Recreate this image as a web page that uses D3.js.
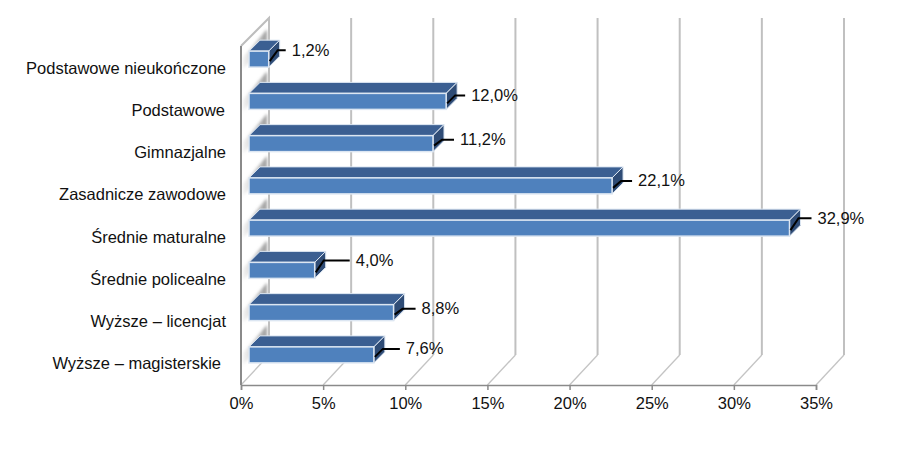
<!DOCTYPE html>
<html><head><meta charset="utf-8">
<script src="https://cdnjs.cloudflare.com/ajax/libs/d3/7.8.5/d3.min.js"></script>
<style>html,body{margin:0;padding:0;background:#fff}svg{display:block}text{font-family:"Liberation Sans",Arial,sans-serif;font-size:16.5px;fill:#111}</style>
</head><body><svg id="c" width="897" height="450"></svg>
<script>
const categories = ["Podstawowe nieukończone","Podstawowe","Gimnazjalne","Zasadnicze zawodowe","Średnie maturalne","Średnie policealne","Wyższe – licencjat","Wyższe – magisterskie"];
const values = [1.2,12.0,11.2,22.1,32.9,4.0,8.8,7.6];
const valueLabels = ["1,2%","12,0%","11,2%","22,1%","32,9%","4,0%","8,8%","7,6%"];
const ticks = [0,5,10,15,20,25,30,35];

const svg = d3.select("#c");
const x = d3.scaleLinear().domain([0,35]).range([241,816]);
const y = d3.scaleBand().domain(categories).range([38,376]);
const floorY = 385, topY = 46, wallDx = 28, wallDy = -30;
const barH = 16, barX = 8, depthX = 11, depthY = -11;
// manual label placement, as in the reference
const labelGap = [23,25,27,26,28,41,28,32];
const labelDy = [-9,-6,-4,-5,-10,-10,-4,-6];
const catShift = [0,-1,0,0,0,0,0,-5];

const defs = svg.append("defs");
const g = defs.append("linearGradient").attr("id","shade").attr("x1",1).attr("x2",0).attr("y1",0).attr("y2",0);
g.append("stop").attr("offset",0).attr("stop-color","#888").attr("stop-opacity",.85);
g.append("stop").attr("offset",1).attr("stop-color","#aaa").attr("stop-opacity",.15);
defs.append("filter").attr("id","blur").append("feGaussianBlur").attr("stdDeviation",1.6);

// side wall edge
svg.append("path").attr("fill","none").attr("stroke","#bdbdbd").attr("stroke-width",2)
  .attr("d",`M${x(0)+wallDx},${floorY+wallDy}V${topY+wallDy+2}L${x(0)},${topY}`);
// shadows on the wall
svg.append("g").selectAll("path").data(categories).join("path")
  .attr("fill","url(#shade)").attr("filter","url(#blur)")
  .attr("d",d=>{const b=y(d)+y.bandwidth()/2+8;const l=x(0)+2,r=x(0)+wallDx-2;
    return `M${l},${b+2}L${r},${b-24}V${b-38}L${l},${b-10}Z`;});
// gridlines: floor part and back wall part
svg.append("g").selectAll("path").data(ticks).join("path")
  .attr("fill","none")
  .attr("d",d=>`M${x(d)},${floorY}L${x(d)+wallDx},${floorY+wallDy}`)
  .attr("stroke","#c4c4c4").attr("stroke-width",1.3);
svg.append("g").selectAll("line").data(ticks).join("line")
  .attr("x1",d=>x(d)+wallDx).attr("x2",d=>x(d)+wallDx)
  .attr("y1",floorY+wallDy).attr("y2",topY+wallDy+2)
  .attr("stroke","#c0c0c0").attr("stroke-width",2);
// front axis
svg.append("path").attr("fill","none").attr("stroke","#8a8a8a").attr("stroke-width",2)
  .attr("d",`M${x(0)},${topY}V${floorY}`);
const axis = svg.append("g").attr("transform",`translate(0,${floorY})`)
  .call(d3.axisBottom(x).tickValues(ticks).tickFormat(d=>d+"%").tickSize(5).tickPadding(7));
axis.select(".domain").attr("stroke","#8a8a8a").attr("stroke-width",1.5);
axis.selectAll("line").attr("stroke","#8a8a8a").attr("stroke-width",1.5);
axis.selectAll("text").attr("fill",null);
axis.attr("font-family",null).attr("font-size",null);

// category labels
svg.append("g").selectAll("text").data(categories).join("text")
  .attr("text-anchor","end")
  .attr("x",(d,i)=>226+catShift[i])
  .attr("y",d=>y(d)+y.bandwidth()/2+14.5)
  .text(d=>d);

// bars
const bars = svg.append("g").selectAll("g").data(categories).join("g");
const L = d=>x(0)+barX;
const R = (d,i)=>x(values[i])+barX;
const T = d=>y(d)+y.bandwidth()/2-barH/2;
bars.append("path").attr("fill","#3b5f92").attr("stroke","#dce6f2").attr("stroke-width",1)
  .attr("d",(d,i)=>`M${L(d)},${T(d)}l${depthX},${depthY}H${R(d,i)+depthX}l${-depthX},${-depthY}Z`);
bars.append("path").attr("fill","#2f4c76").attr("stroke","#dce6f2").attr("stroke-width",1)
  .attr("d",(d,i)=>`M${R(d,i)},${T(d)}l${depthX},${depthY}v${barH}l${-depthX},${-depthY}Z`);
bars.append("rect").attr("fill","#4f81bd").attr("stroke","#dce6f2").attr("stroke-width",1.5)
  .attr("x",L).attr("y",T).attr("width",(d,i)=>R(d,i)-L(d)).attr("height",barH);

// leader lines + value labels
const lab = svg.append("g").selectAll("g").data(categories).join("g");
lab.append("path").attr("fill","none").attr("stroke","#000").attr("stroke-width",2)
  .attr("d",(d,i)=>{const sx=R(d,i)+1,sy=T(d)+barH/2+2;const ex=R(d,i)+labelGap[i]-6,ey=T(d)+barH/2+labelDy[i];
    return `M${sx},${sy}L${sx+8},${ey}H${ex}`;});
lab.append("text").attr("x",(d,i)=>R(d,i)+labelGap[i]).attr("y",(d,i)=>T(d)+barH/2+labelDy[i]+5.5)
  .text((d,i)=>valueLabels[i]);
</script></body></html>
